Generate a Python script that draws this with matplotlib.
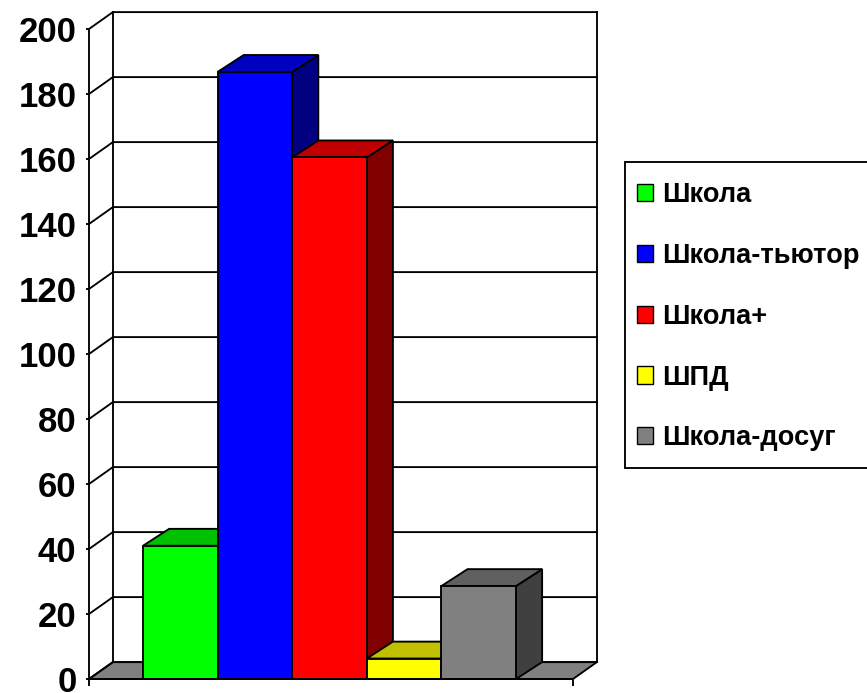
import matplotlib
matplotlib.use("Agg")
import matplotlib.pyplot as plt
from matplotlib.patches import Polygon, Rectangle

plt.rcParams['font.family'] = ['Liberation Sans', 'DejaVu Sans']

categories = ['Школа', 'Школа-тьютор', 'Школа+', 'ШПД', 'Школа-досуг']
values = [41, 186.8, 160.5, 6.3, 28.6]
front_colors = ['#00ff00', '#0000ff', '#ff0000', '#ffff00', '#808080']
top_colors = ['#00c000', '#0000c0', '#c00000', '#c0c000', '#606060']
side_colors = ['#008000', '#000080', '#800000', '#808000', '#404040']
y_ticks = list(range(0, 201, 20))

W, H = 867, 693
fig = plt.figure(figsize=(W / 100, H / 100), dpi=100, facecolor='white')
ax = fig.add_axes([89 / W, (H - 679) / H, (573 - 89) / W, (679 - 29) / H])

x_left, x_right = -1.224, 5.264
ax.set_xlim(x_left, x_right)
ax.set_ylim(0, 200)

LW = 1.35
wall_dx, wall_dy = 0.32, 5.2
bar_dx, bar_dy = 0.35, 5.2

# floor
ax.add_patch(Polygon([(x_left, 0), (x_right, 0), (x_right + wall_dx, wall_dy), (x_left + wall_dx, wall_dy)],
                     closed=True, fc='#808080', ec='black', lw=LW, clip_on=False, zorder=1))
# walls and gridlines
for t in y_ticks:
    ax.plot([x_left, x_left + wall_dx, x_right + wall_dx], [t, t + wall_dy, t + wall_dy],
            color='black', lw=LW, clip_on=False, zorder=1.5, solid_joinstyle='miter')
for xv in (x_left + wall_dx, x_right + wall_dx):
    ax.plot([xv, xv], [wall_dy, 200 + wall_dy], color='black', lw=LW, clip_on=False, zorder=1.5)

# bars, painted from left to right
handles = []
for i, (name, v) in enumerate(zip(categories, values)):
    z = 2 + i
    l, r = i - 0.5, i + 0.5
    ax.add_patch(Polygon([(r, 0), (r + bar_dx, bar_dy), (r + bar_dx, v + bar_dy), (r, v)],
                         closed=True, fc=side_colors[i], ec='black', lw=LW, clip_on=False, zorder=z))
    ax.add_patch(Polygon([(l, v), (r, v), (r + bar_dx, v + bar_dy), (l + bar_dx, v + bar_dy)],
                         closed=True, fc=top_colors[i], ec='black', lw=LW, clip_on=False, zorder=z))
    b = ax.bar(i, v, width=1, color=front_colors[i], edgecolor='black', lw=LW, clip_on=False,
               zorder=z + 0.5, label=name)
    handles.append(b[0])

# axes
for s in ('top', 'right', 'bottom'):
    ax.spines[s].set_visible(False)
ax.spines['left'].set_linewidth(LW)
ax.plot([x_left, x_right], [0, 0], color='black', lw=LW, clip_on=False, zorder=10)
ax.set_yticks(y_ticks)
ax.set_yticklabels([str(t) for t in y_ticks], fontsize=25, fontweight='bold')
ax.tick_params(axis='y', length=2.5, width=LW, pad=6.5)
ax.set_xticks([x_left, x_right])
ax.set_xticklabels([])
ax.tick_params(axis='x', length=5, width=LW)
ax.patch.set_alpha(0)

# legend frame runs past the right edge of the picture, as in the reference
fig.add_artist(Rectangle((625 / W, (H - 468) / H), 260 / W, 306 / H, transform=fig.transFigure,
                         fc='white', ec='black', lw=LW, clip_on=True))
leg = fig.legend(handles=handles, labels=categories, loc='upper left',
                 bbox_to_anchor=(637 / W, (H - 182.5) / H), bbox_transform=fig.transFigure,
                 borderaxespad=0, prop={'family': ['Liberation Sans'], 'weight': 'bold', 'size': 19.6},
                 frameon=False, handlelength=0.59, handleheight=0.59, handletextpad=0.34,
                 labelspacing=1.275, borderpad=0)
for h in leg.legend_handles:
    h.set_linewidth(1.0)

fig.savefig('out.png', dpi=100)
